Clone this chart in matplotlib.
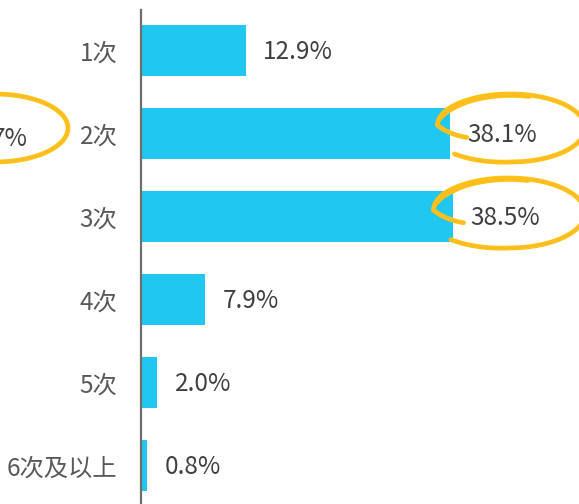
import numpy as np
import matplotlib
matplotlib.use("Agg")
import matplotlib.pyplot as plt

plt.rcParams['font.family'] = ['Noto Sans CJK SC', 'DejaVu Sans']

categories = ["1次", "2次", "3次", "4次", "5次", "6次及以上"]
values = [12.9, 38.1, 38.5, 7.9, 2.0, 0.8]
value_labels = ["12.9%", "38.1%", "38.5%", "7.9%", "2.0%", "0.8%"]

W, H = 579, 504
fig = plt.figure(figsize=(W / 100, H / 100), dpi=100)

ax = fig.add_axes([141 / W, 0, 1 - 141 / W, 1 - 10 / H])
y = np.arange(len(categories))
ax.barh(y, values, height=0.615, color="#20C8F1")
ax.set_xlim(0, 54)
ax.set_ylim(5.46, -0.49)
for s in ["top", "right", "bottom"]:
    ax.spines[s].set_visible(False)
ax.spines["left"].set_color("#6e6e6e")
ax.spines["left"].set_linewidth(1.6)
ax.set_xticks([])
ax.set_yticks(y)
ax.set_yticklabels(categories, fontsize=17.5, color="#595959")
ax.tick_params(axis="y", length=0, pad=17)
for yi, v, lab in zip(y, values, value_labels):
    ax.annotate(lab, (v, yi + 0.02), xytext=(12.5, 0), textcoords="offset points",
                va="center", ha="left", fontsize=17.5, color="#404040")

# overlay for hand-drawn highlight ellipses (pixel coordinates)
ov = fig.add_axes([0, 0, 1, 1])
ov.set_xlim(0, W)
ov.set_ylim(H, 0)
ov.axis("off")
ov.patch.set_alpha(0)


def stroke(cx, cy, rx, ry, tk, fk):
    t = np.linspace(tk[0], tk[-1], 400)
    f = np.interp(t, tk[::-1], fk[::-1]) if tk[0] > tk[-1] else np.interp(t, tk, fk)
    tr = np.radians(t)
    x = cx + rx * f * np.cos(tr)
    yy = cy + ry * f * np.sin(tr)
    ov.plot(x, yy, color="#FFC20E", lw=3.4, solid_capstyle="round")
    ov.plot(x, yy, color="#F5A58F", lw=0.5, alpha=0.6)


# t decreasing: bottom-left -> bottom -> right -> top -> left -> inner tail
tk = [135, 90, 0, -90, -150, -175, -205]
fk = [1.08, 1.0, 1.0, 1.0, 1.02, 1.0, 0.66]
stroke(511, 128, 74, 34, tk, fk)
stroke(511, 128, 74, 34, [-75, -110, -140, -165], [0.96, 0.96, 0.97, 1.0])
stroke(509, 213, 76, 35, tk, fk)
stroke(509, 213, 76, 35, [-75, -110, -140, -165], [0.96, 0.96, 0.97, 1.0])
stroke(-5, 128, 73, 34, [-100, 0, 100], [1.0, 1.0, 1.0])

ov.text(28, 139, "7%", ha="right", va="center", fontsize=17.5, color="#404040")

fig.savefig("out.png", dpi=100)
